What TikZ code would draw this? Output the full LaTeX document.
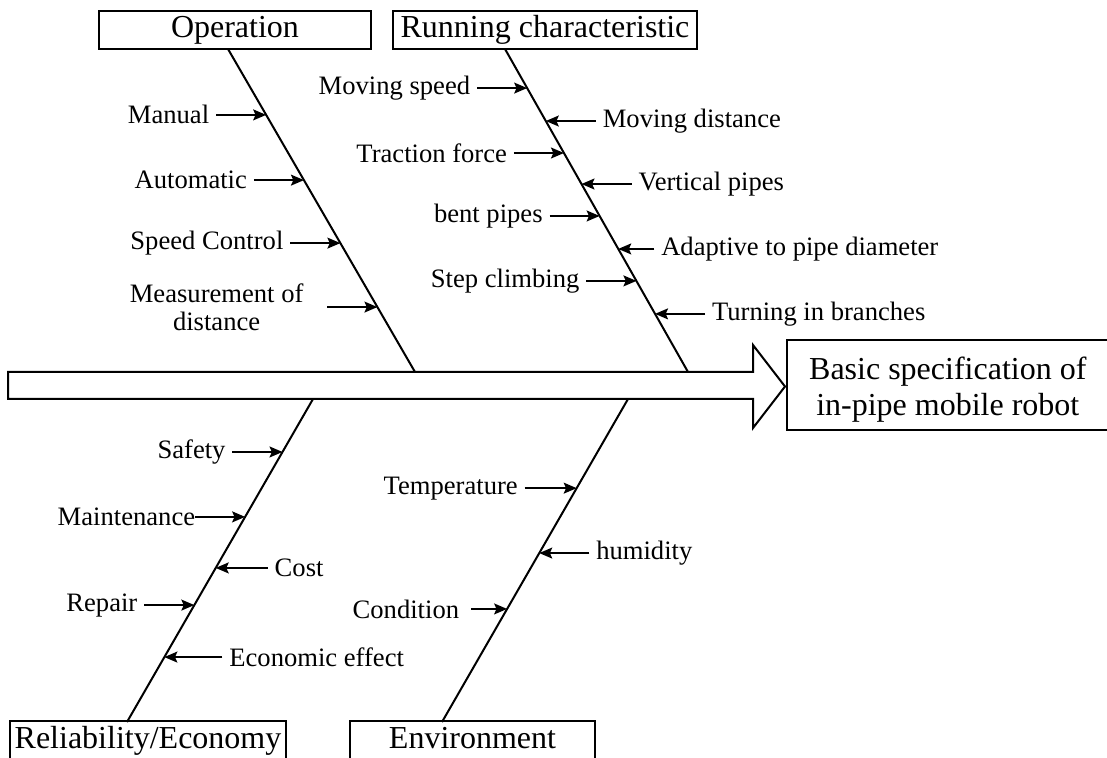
\documentclass[tikz,border=0pt]{standalone}
\usepackage{fontspec}
\setmainfont{Liberation Serif}
\usetikzlibrary{calc,arrows.meta}
\begin{document}
\begin{tikzpicture}[x=0.5pt,y=-0.5pt,
  title/.style={draw, line width=0.8pt, font=\fontsize{16}{18}\selectfont, inner sep=0pt, minimum height=19pt, text height=11pt, text depth=3.5pt},
  lbl/.style={font=\fontsize{13.3}{14}\selectfont, inner xsep=0pt, inner ysep=1pt, outer xsep=3.5pt, outer ysep=0pt},
  bone/.style={line width=1pt},
  arr/.style={line width=0.75pt, -{Stealth[length=6.5pt,width=5.5pt,inset=1.2pt]}},
]
\useasboundingbox (0,0) rectangle (1107,758);
\clip (0,0) rectangle (1107,758);

% category boxes
\node[title, minimum width=136pt] (op) at (235,30) {Operation};
\node[title, minimum width=152pt] (rc) at (545,30) {Running characteristic};
\node[title, minimum width=138pt, minimum height=20pt] (re) at (148,741) {Reliability/Economy};
\node[title, minimum width=122.5pt, minimum height=20pt] (en) at (472.5,741) {Environment};

% main arrow
\draw[line width=1pt, fill=white] (8,372) -- (753,372) -- (753,345) -- (785,386.5) -- (753,428) -- (753,399) -- (8,399) -- cycle;
\node[draw, line width=0.8pt, anchor=west, minimum width=161pt, minimum height=45pt, inner sep=0pt] (goal) at (786,385) {};
\node[align=center, font=\fontsize{16}{18}\selectfont, inner sep=0pt] (goaltext) at ([yshift=-2.5pt]goal.center) {Basic specification of\\in-pipe mobile robot};

% bones
\coordinate (opA) at (228,49);  \coordinate (opB) at (415,372);
\coordinate (rcA) at (505,49);  \coordinate (rcB) at (688,372);
\coordinate (reA) at (313,399); \coordinate (reB) at (127,722);
\coordinate (enA) at (628,399); \coordinate (enB) at (442,722);
\draw[bone] (opA) -- (opB);
\draw[bone] (rcA) -- (rcB);
\draw[bone] (reA) -- (reB);
\draw[bone] (enA) -- (enB);

% Operation
\coordinate (o1) at ($(opA)!0.204!(opB)$);
\coordinate (o2) at ($(opA)!0.406!(opB)$);
\coordinate (o3) at ($(opA)!0.601!(opB)$);
\coordinate (o4) at ($(opA)!0.799!(opB)$);
\node[lbl, anchor=east] (lo1) at ([xshift=-25pt]o1) {Manual};
\node[lbl, anchor=east] (lo2) at ([xshift=-25pt]o2) {Automatic};
\node[lbl, anchor=east] (lo3) at ([xshift=-25pt]o3) {Speed Control};
\node[lbl, anchor=east, align=center, outer xsep=12pt] (lo4) at ([xshift=-25pt]o4) {Measurement of\\distance};
\foreach \i in {1,2,3,4} \draw[arr] (lo\i) -- (o\i);

% Running characteristic
\coordinate (r1) at ($(rcA)!0.121!(rcB)$);
\coordinate (r2) at ($(rcA)!0.223!(rcB)$);
\coordinate (r3) at ($(rcA)!0.322!(rcB)$);
\coordinate (r4) at ($(rcA)!0.418!(rcB)$);
\coordinate (r5) at ($(rcA)!0.517!(rcB)$);
\coordinate (r6) at ($(rcA)!0.619!(rcB)$);
\coordinate (r7) at ($(rcA)!0.718!(rcB)$);
\coordinate (r8) at ($(rcA)!0.820!(rcB)$);
\node[lbl, anchor=east] (lr1) at ([xshift=-25pt]r1) {Moving speed};
\node[lbl, anchor=west] (lr2) at ([xshift=25pt]r2) {Moving distance};
\node[lbl, anchor=east] (lr3) at ([xshift=-25pt]r3) {Traction force};
\node[lbl, anchor=west] (lr4) at ([xshift=25pt]r4) {Vertical pipes};
\node[lbl, anchor=east] (lr5) at ([xshift=-25pt]r5) {bent pipes};
\node[lbl, anchor=west] (lr6) at ([xshift=18pt]r6) {Adaptive to pipe diameter};
\node[lbl, anchor=east] (lr7) at ([xshift=-25pt]r7) {Step climbing};
\node[lbl, anchor=west] (lr8) at ([xshift=25pt]r8) {Turning in branches};
\foreach \i in {1,...,8} \draw[arr] (lr\i) -- (r\i);

% Reliability/Economy
\coordinate (e1) at ($(reA)!0.164!(reB)$);
\coordinate (e2) at ($(reA)!0.365!(reB)$);
\coordinate (e3) at ($(reA)!0.523!(reB)$);
\coordinate (e4) at ($(reA)!0.638!(reB)$);
\coordinate (e5) at ($(reA)!0.799!(reB)$);
\node[lbl, anchor=east] (le1) at ([xshift=-25pt]e1) {Safety};
\node[lbl, anchor=east, outer xsep=0pt] (le2) at ([xshift=-25pt]e2) {Maintenance};
\node[lbl, anchor=west] (le3) at ([xshift=26pt]e3) {Cost};
\node[lbl, anchor=east] (le4) at ([xshift=-25pt]e4) {Repair};
\node[lbl, anchor=west] (le5) at ([xshift=29pt]e5) {Economic effect};
\foreach \i in {1,...,5} \draw[arr] (le\i) -- (e\i);

% Environment
\coordinate (n1) at ($(enA)!0.276!(enB)$);
\coordinate (n2) at ($(enA)!0.477!(enB)$);
\coordinate (n3) at ($(enA)!0.650!(enB)$);
\node[lbl, anchor=east] (ln1) at ([xshift=-26pt]n1) {Temperature};
\node[lbl, anchor=west] (ln2) at ([xshift=25pt]n2) {humidity};
\node[lbl, anchor=east, outer xsep=6pt] (ln3) at ([xshift=-18pt]n3) {Condition};
\foreach \i in {1,2,3} \draw[arr] (ln\i) -- (n\i);
\end{tikzpicture}
\end{document}
